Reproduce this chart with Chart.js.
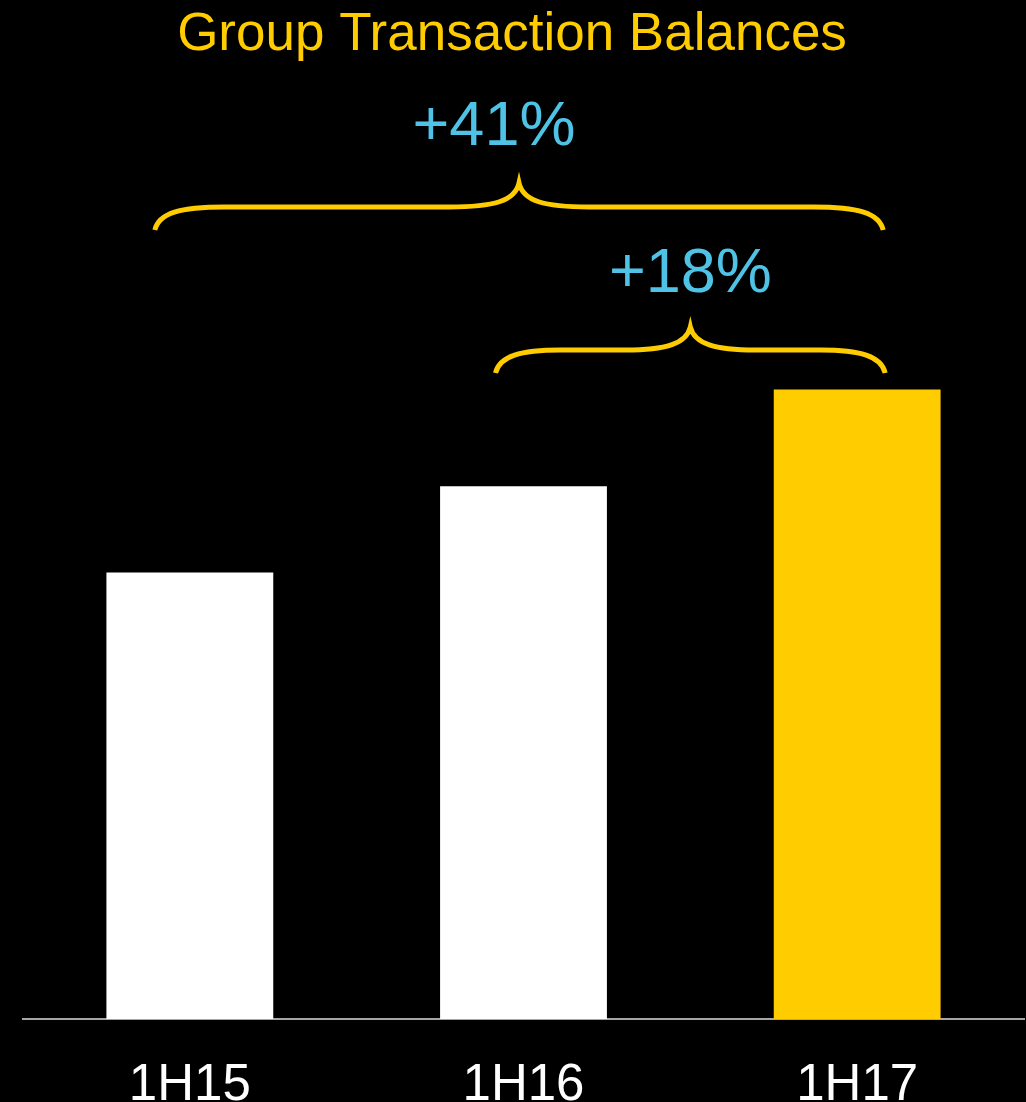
<!DOCTYPE html>
<html>
<head>
<meta charset="utf-8">
<title>Group Transaction Balances</title>
<script src="https://cdn.jsdelivr.net/npm/chart.js@4/dist/chart.umd.min.js"></script>
<style>
  html, body { margin: 0; padding: 0; background: #000; }
  #wrap { width: 1026px; height: 1102px; }
</style>
</head>
<body>
<div id="wrap"><canvas id="chart"></canvas></div>
<script>
const categories = ['1H15', '1H16', '1H17']
const balances = [100, 119.3, 141]          // indexed, 1H15 = 100
const barColors = ['#ffffff', '#ffffff', '#ffcc00']

// growth braces: from bar index -> to bar index, with the label shown above
const growthFrom = [0, 1]
const growthTo = [2, 2]
const growthLabels = ['+41%', '+18%']

const YELLOW = '#ffcc00'
const CYAN = '#4fc3e6'
const FONT = '"Liberation Sans", Arial, Helvetica, sans-serif'

// brace geometry per brace: arm y, tip rise, end drop, end offsets from bar centres, label baseline
const braceStyle = [
  { arm: 207, rise: 24, drop: 23, left: -35, right: 26, labelY: 145, labelDx: -25 },
  { arm: 350, rise: 23, drop: 23, left: -28, right: 28, labelY: 292, labelDx: 0 }
]

function drawBrace(ctx, x0, x1, s) {
  const tip = (x0 + x1) / 2
  const y = s.arm
  const curl = Math.min(70, (x1 - x0) / 6)
  ctx.beginPath()
  ctx.moveTo(x0, y + s.drop)
  ctx.bezierCurveTo(x0 + 4, y + 6, x0 + 25, y, x0 + curl, y)
  ctx.lineTo(tip - curl, y)
  ctx.bezierCurveTo(tip - 25, y, tip - 4, y - 6, tip, y - s.rise)
  ctx.bezierCurveTo(tip + 4, y - 6, tip + 25, y, tip + curl, y)
  ctx.lineTo(x1 - curl, y)
  ctx.bezierCurveTo(x1 - 25, y, x1 - 4, y + 6, x1, y + s.drop)
  ctx.stroke()
}

const annotations = {
  id: 'annotations',
  afterDraw(chart) {
    const { ctx } = chart
    const x = chart.scales.x
    ctx.save()
    ctx.textAlign = 'center'
    ctx.textBaseline = 'alphabetic'

    ctx.fillStyle = YELLOW
    ctx.font = '53px ' + FONT
    ctx.fillText('Group Transaction Balances', 512, 50)

    ctx.strokeStyle = YELLOW
    ctx.lineWidth = 5
    ctx.lineCap = 'butt'
    growthFrom.forEach((from, i) => {
      const s = braceStyle[i]
      const x0 = x.getPixelForValue(from) + s.left
      const x1 = x.getPixelForValue(growthTo[i]) + s.right
      drawBrace(ctx, x0, x1, s)
      ctx.fillStyle = CYAN
      ctx.font = '63px ' + FONT
      ctx.fillText(growthLabels[i], (x0 + x1) / 2 + s.labelDx, s.labelY)
    })
    ctx.restore()
  }
}

new Chart(document.getElementById('chart'), {
  type: 'bar',
  data: {
    labels: categories,
    datasets: [{ data: balances, backgroundColor: barColors, barPercentage: 0.5, categoryPercentage: 1 }]
  },
  options: {
    responsive: true,
    maintainAspectRatio: false,
    animation: false,
    layout: { padding: { top: 126, left: 23, right: 2, bottom: -42 } },
    plugins: { legend: { display: false }, tooltip: { enabled: false } },
    scales: {
      x: {
        grid: { display: false },
        border: { display: true, color: '#a6a6a6', width: 2 },
        ticks: { color: '#ffffff', padding: 33, font: { family: FONT, size: 51, lineHeight: 1 } }
      },
      y: { display: false, min: 0, max: 200 }
    }
  },
  plugins: [annotations]
})
</script>
</body>
</html>
